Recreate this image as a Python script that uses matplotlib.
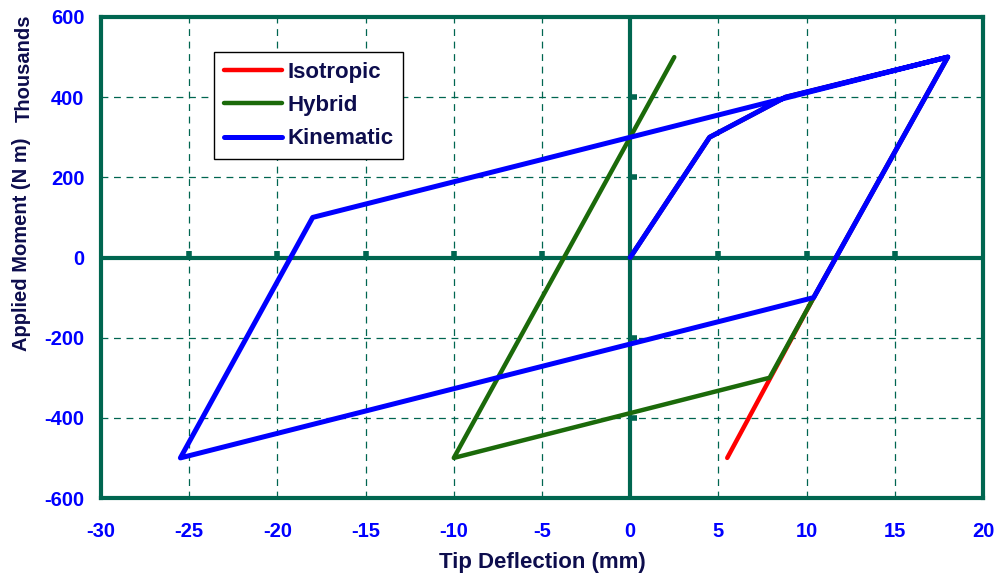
import matplotlib
matplotlib.use("Agg")
import matplotlib.pyplot as plt
import numpy as np

# ---- data (moment in thousands of N m, deflection in mm) ----
iso_x = [0, 4.5, 8.8, 18, 10.4, 5.5]
iso_y = [0, 300, 400, 500, -100, -500]
hyb_x = [0, 4.5, 8.8, 18, 10.4, 7.9, -10, 2.5]
hyb_y = [0, 300, 400, 500, -100, -300, -500, 500]
kin_x = [0, 4.5, 8.8, 18, 10.4, -25.5, -18, 18]
kin_y = [0, 300, 400, 500, -100, -500, 100, 500]
x_ticks = [-30, -25, -20, -15, -10, -5, 0, 5, 10, 15, 20]
y_ticks = [-600, -400, -200, 0, 200, 400, 600]

FRAME = '#006650'
NAVY = '#0d0d4d'
FONT = 'Liberation Sans'

plt.rcParams['font.family'] = [FONT, 'DejaVu Sans']

fig = plt.figure(figsize=(9.97, 5.82), dpi=100)
ax = fig.add_axes([101/997, 1-498/582, (983-101)/997, (498-17)/582])

ax.set_xlim(-30, 20)
ax.set_ylim(-600, 600)
ax.set_xticks(x_ticks)
ax.set_yticks(y_ticks)
ax.set_xticklabels([str(v) for v in x_ticks])
ax.set_yticklabels([str(v) for v in y_ticks])
ax.tick_params(axis='both', length=0, labelcolor='#0000ff', labelsize=14.5)
ax.tick_params(axis='x', pad=17)
ax.tick_params(axis='y', pad=12)
for lab in ax.get_xticklabels() + ax.get_yticklabels():
    lab.set_fontweight('bold')

ax.grid(True, color=FRAME, linestyle=(0, (5.5, 4.5)), linewidth=0.9)
ax.set_axisbelow(True)
for sp in ax.spines.values():
    sp.set_color(FRAME)
    sp.set_linewidth(3)

# zero axes
ax.axhline(0, color=FRAME, lw=3, zorder=1.5)
ax.axvline(0, color=FRAME, lw=3, zorder=1.5)
xt_inner = [v for v in x_ticks if v not in (x_ticks[0], x_ticks[-1], 0)]
yt_inner = [v for v in y_ticks if v not in (y_ticks[0], y_ticks[-1], 0)]
ax.plot(xt_inner, [0]*len(xt_inner), linestyle='none', marker=2, ms=5, mew=4,
        color=FRAME, zorder=1.6)
ax.plot([0]*len(yt_inner), yt_inner, linestyle='none', marker=1, ms=5, mew=4,
        color=FRAME, zorder=1.6)

ax.plot(iso_x, iso_y, color='#ff0000', lw=3.2, label='Isotropic', zorder=3,
        solid_capstyle='round', solid_joinstyle='round')
ax.plot(hyb_x, hyb_y, color='#1b6a0a', lw=3.2, label='Hybrid', zorder=4,
        solid_capstyle='round', solid_joinstyle='round')
ax.plot(kin_x, kin_y, color='#0000ff', lw=3.6, label='Kinematic', zorder=5,
        solid_capstyle='round', solid_joinstyle='round')

leg = ax.legend(loc='upper left', bbox_to_anchor=((214-101)/882, (498-52)/481),
                fancybox=False, framealpha=1, edgecolor='black',
                prop={'family': FONT, 'weight': 'bold', 'size': 16},
                handlelength=2.6, handletextpad=0.25, borderpad=0.45,
                labelspacing=0.55, borderaxespad=0)
leg.get_frame().set_linewidth(1)
for t in leg.get_texts():
    t.set_color(NAVY)

ax.set_xlabel('Tip Deflection (mm)', fontsize=16, fontweight='bold', color=NAVY,
              labelpad=8)
fig.text(22/997, 1-351/582, 'Applied Moment (N m)', rotation=90, ha='center',
         va='bottom', fontsize=14.5, fontweight='bold', color=NAVY)
fig.text(24/997, 1-15/582, 'Thousands', rotation=90, ha='center', va='top',
         fontsize=14.5, fontweight='bold', color=NAVY)

fig.savefig('out.png', dpi=100)
